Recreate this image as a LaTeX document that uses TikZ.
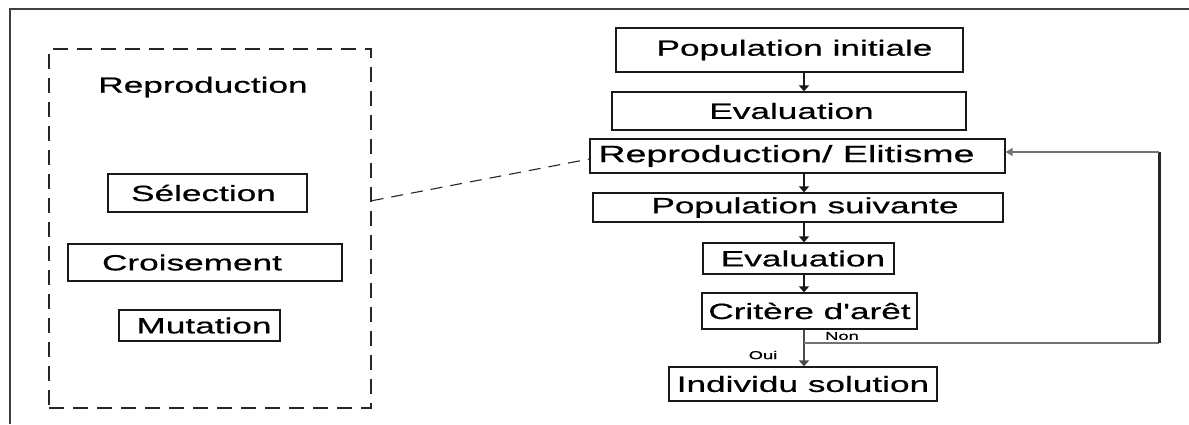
\documentclass[tikz,border=0pt]{standalone}
\usepackage{fontspec}
\newfontfamily\arialw[FakeStretch=1.6,FakeBold=0.6]{Liberation Sans}
\usetikzlibrary{arrows.meta,calc}
\newcommand\nudge[1]{\hspace*{#1}}
\begin{document}
\begin{tikzpicture}[x=1pt,y=-1pt,
  box/.style={draw=black!90, line width=1.3pt, inner sep=0pt,
              font=\arialw\fontsize{22}{26}\selectfont},
  title/.style={inner sep=0pt, font=\arialw\fontsize{22}{26}\selectfont},
  flow/.style={draw=black!90, line width=1.8pt, -{Triangle[length=6pt,width=10pt]}},
  loopline/.style={draw=black!55, line width=1.6pt},
  small/.style={inner sep=0pt, font=\arialw\fontsize{11.5}{13}\selectfont},
  ]
\useasboundingbox (0,0) rectangle (1189,424);
\fill[white] (0,0) rectangle (1189,424);
% outer frame (top and left edges)
\draw[black!75, line width=1.3pt] (10,424) -- (10,9) -- (1189,9);

% reproduction group
\node[draw=black!85, line width=1.3pt, dash pattern=on 15pt off 9pt,
      minimum width=322pt, minimum height=359pt, inner sep=0pt] (repgroup) at (210,228.5) {};
\node[title] (reptitle) at (203,87) {Reproduction};
\node[box, minimum width=199pt, minimum height=38pt] (selection) at (207.5,193) {\nudge{-8pt}Sélection};
\node[box, minimum width=274pt, minimum height=37pt] (croisement) at (205,262.5) {Croisement\nudge{26pt}};
\node[box, minimum width=161pt, minimum height=31pt] (mutation) at (199.5,325.5) {\nudge{9pt}Mutation};

% main flow
\node[box, minimum width=347pt, minimum height=44pt] (popinit) at (789.5,50) {\nudge{10pt}Population initiale};
\node[box, minimum width=354pt, minimum height=38pt] (eval1) at (789,111) {\nudge{5pt}Evaluation};
\node[box, minimum width=415pt, minimum height=34pt, font=\arialw\fontsize{23.5}{26}\selectfont] (repro) at (797.5,156) {Reproduction/ Elitisme\nudge{22pt}};
\node[box, minimum width=410pt, minimum height=29pt] (popsuiv) at (798,207.5) {\nudge{14pt}Population suivante};
\node[box, minimum width=191pt, minimum height=31pt] (eval2) at (798.5,258.5) {\nudge{9pt}Evaluation};
\node[box, minimum width=215pt, minimum height=36pt] (critere) at (809.5,311) {Critère d'arêt};
\node[box, minimum width=268pt, minimum height=34pt] (individu) at (803,384) {Individu solution};

\coordinate (spine) at (804,0);
\draw[flow] (popinit.south -| spine) -- (eval1.north -| spine);
\draw[flow] (repro.south -| spine) -- (popsuiv.north -| spine);
\draw[flow] (popsuiv.south -| spine) -- (eval2.north -| spine);
\draw[flow] (eval2.south -| spine) -- (critere.north -| spine);
\draw[flow, draw=black!70, line width=2pt] (critere.south -| spine) -- (individu.north -| spine);

% loop back when the criterion is not met
\coordinate (branch) at (804,343);
\coordinate (loopbr) at (1159,343);
\coordinate (looptr) at (1159,152);
\draw[loopline] (branch) -- (loopbr);
\draw[draw=black!85, line width=3pt] (loopbr) -- (looptr);
\draw[loopline, -{Triangle[length=7pt,width=8pt]}] (looptr) -- (repro.east |- looptr);

\node[small] (non) at (842,336) {Non};
\node[small] (oui) at (763,355) {Oui};

% link from the detail group to the reproduction step
\draw[black!85, line width=1.1pt, dash pattern=on 12pt off 8pt]
  ($(repgroup.north east)!0.423!(repgroup.south east)$) -- ($(repro.west)+(0,3)$);
\end{tikzpicture}
\end{document}
